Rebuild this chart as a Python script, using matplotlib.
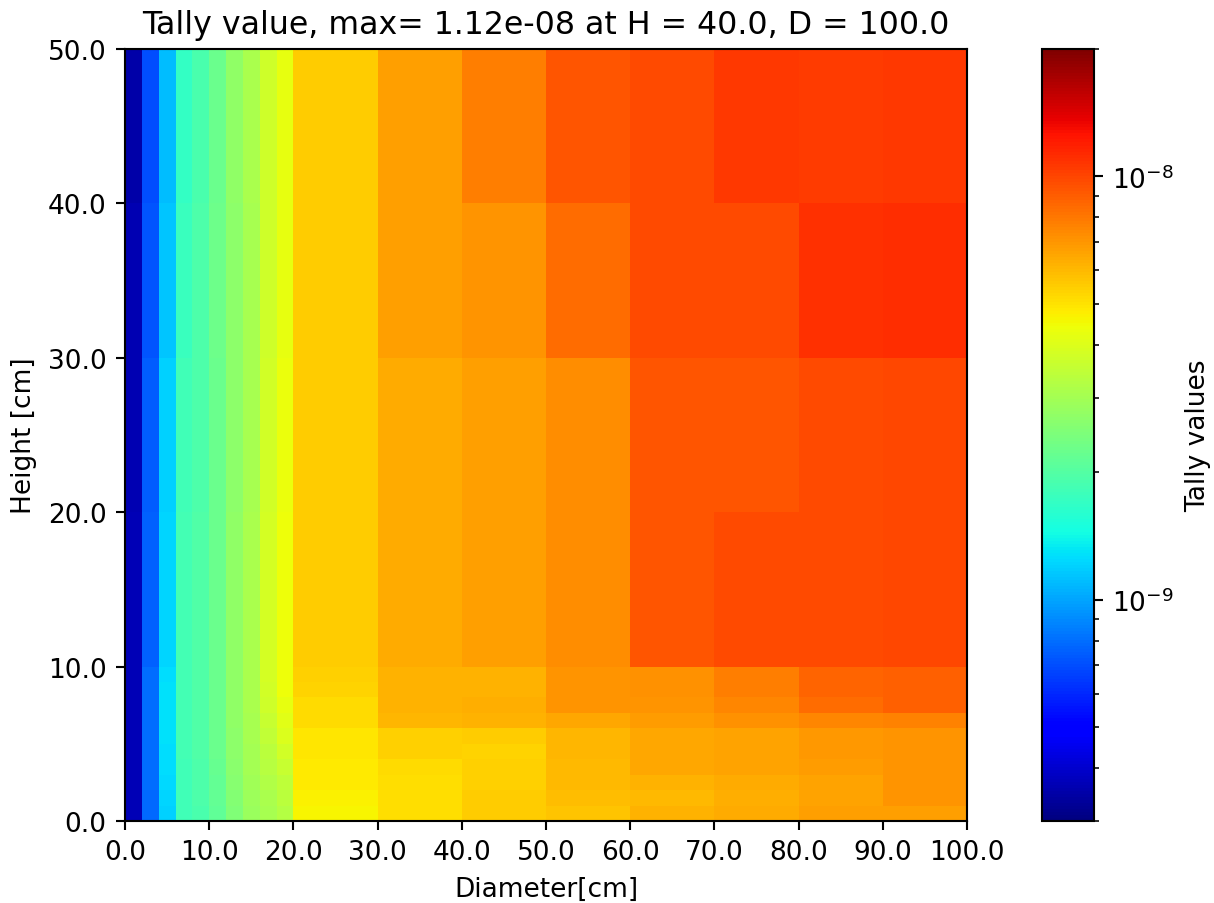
import numpy as np
import matplotlib
matplotlib.use("Agg")
import matplotlib.pyplot as plt
from matplotlib.colors import LogNorm
from matplotlib.ticker import FormatStrFormatter

# Bin edges
diameter_edges = [0, 2, 4, 6, 8, 10, 12, 14, 16, 18, 20, 30, 40, 50, 60, 70, 80, 90, 100]
height_edges = [0, 1, 2, 3, 4, 5, 6, 7, 8, 9, 10, 20, 30, 40, 50]

# Tally values (units of 1e-9), one list per height band, columns follow diameter bins
h00_01 = [0.37, 0.78, 1.20, 1.80, 1.90, 2.12, 2.50, 2.85, 3.05, 3.25, 4.60, 5.10, 5.50, 5.70, 6.20, 6.40, 6.70, 6.70]
h01_02 = [0.37, 0.78, 1.22, 1.81, 1.92, 2.15, 2.55, 2.90, 3.10, 3.35, 4.70, 5.10, 5.50, 5.90, 6.00, 6.30, 6.60, 7.10]
h02_03 = [0.37, 0.79, 1.24, 1.82, 1.93, 2.18, 2.58, 2.95, 3.20, 3.45, 4.80, 5.10, 5.40, 6.00, 6.20, 6.40, 6.60, 7.10]
h03_04 = [0.37, 0.79, 1.26, 1.82, 1.94, 2.20, 2.62, 3.00, 3.30, 3.60, 4.85, 5.20, 5.40, 6.00, 6.50, 6.60, 6.85, 7.10]
h04_05 = [0.37, 0.80, 1.27, 1.83, 1.95, 2.22, 2.66, 3.02, 3.40, 3.80, 4.90, 5.40, 5.30, 6.05, 6.50, 6.60, 6.90, 7.00]
h05_06 = [0.37, 0.80, 1.28, 1.83, 1.96, 2.23, 2.70, 3.05, 3.50, 3.95, 4.90, 5.40, 5.50, 6.10, 6.50, 6.60, 6.90, 7.00]
h06_07 = [0.37, 0.80, 1.28, 1.83, 1.96, 2.24, 2.72, 3.08, 3.60, 4.10, 5.20, 6.10, 6.20, 6.50, 6.80, 7.20, 7.50, 7.60]
h07_08 = [0.37, 0.80, 1.28, 1.83, 1.96, 2.25, 2.72, 3.10, 3.70, 4.25, 5.20, 6.20, 6.30, 7.00, 7.10, 7.50, 8.40, 8.90]
h08_09 = [0.37, 0.80, 1.28, 1.83, 1.96, 2.25, 2.72, 3.10, 3.80, 4.35, 5.30, 6.20, 6.20, 7.00, 7.20, 7.80, 8.80, 8.90]
h09_10 = [0.37, 0.80, 1.27, 1.83, 1.96, 2.25, 2.72, 3.10, 3.85, 4.40, 5.40, 6.20, 6.20, 7.00, 7.20, 7.80, 8.80, 8.90]
h10_20 = [0.37, 0.76, 1.22, 1.83, 1.95, 2.25, 2.72, 3.10, 3.85, 4.40, 5.53, 6.42, 6.73, 7.35, 9.28, 9.78, 9.85, 9.90]
h20_30 = [0.36, 0.75, 1.20, 1.80, 1.93, 2.24, 2.70, 3.05, 3.80, 4.30, 5.53, 6.42, 6.73, 7.35, 9.39, 9.39, 9.85, 10.0]
h30_40 = [0.36, 0.72, 1.15, 1.75, 1.92, 2.28, 2.70, 3.05, 3.75, 4.25, 5.53, 6.73, 7.05, 8.42, 9.78, 9.78, 10.9, 11.2]
h40_50 = [0.35, 0.70, 1.10, 1.68, 1.90, 2.25, 2.72, 3.09, 3.73, 4.23, 5.53, 6.73, 7.78, 9.39, 9.78, 10.7, 10.4, 10.7]

x_ticks = [0, 10, 20, 30, 40, 50, 60, 70, 80, 90, 100]
y_ticks = [0, 10, 20, 30, 40, 50]
title = "Tally value, max= 1.12e-08 at H = 40.0, D = 100.0"

rows = [h00_01, h01_02, h02_03, h03_04, h04_05, h05_06, h06_07, h07_08,
        h08_09, h09_10, h10_20, h20_30, h30_40, h40_50]
Z = np.array(rows) * 1e-9

fig = plt.figure(figsize=(1214 / 190, 904 / 190), dpi=190)
ax = fig.add_axes([125 / 1214, 82 / 904, 842 / 1214, 772 / 904])
cax = fig.add_axes([1042 / 1214, 82 / 904, 52 / 1214, 772 / 904])

norm = LogNorm(vmin=3e-10, vmax=2e-8)
mesh = ax.pcolormesh(diameter_edges, height_edges, Z, cmap="jet", norm=norm)
ax.set_xlim(0, 100)
ax.set_ylim(0, 50)
ax.set_xticks(x_ticks)
ax.set_yticks(y_ticks)
ax.xaxis.set_major_formatter(FormatStrFormatter("%.1f"))
ax.yaxis.set_major_formatter(FormatStrFormatter("%.1f"))
ax.set_xlabel("Diameter[cm]")
ax.set_ylabel("Height [cm]")
ax.set_title(title, fontsize=12)

cb = fig.colorbar(mesh, cax=cax)
cb.set_label("Tally values")

fig.savefig("out.png", dpi=190)
